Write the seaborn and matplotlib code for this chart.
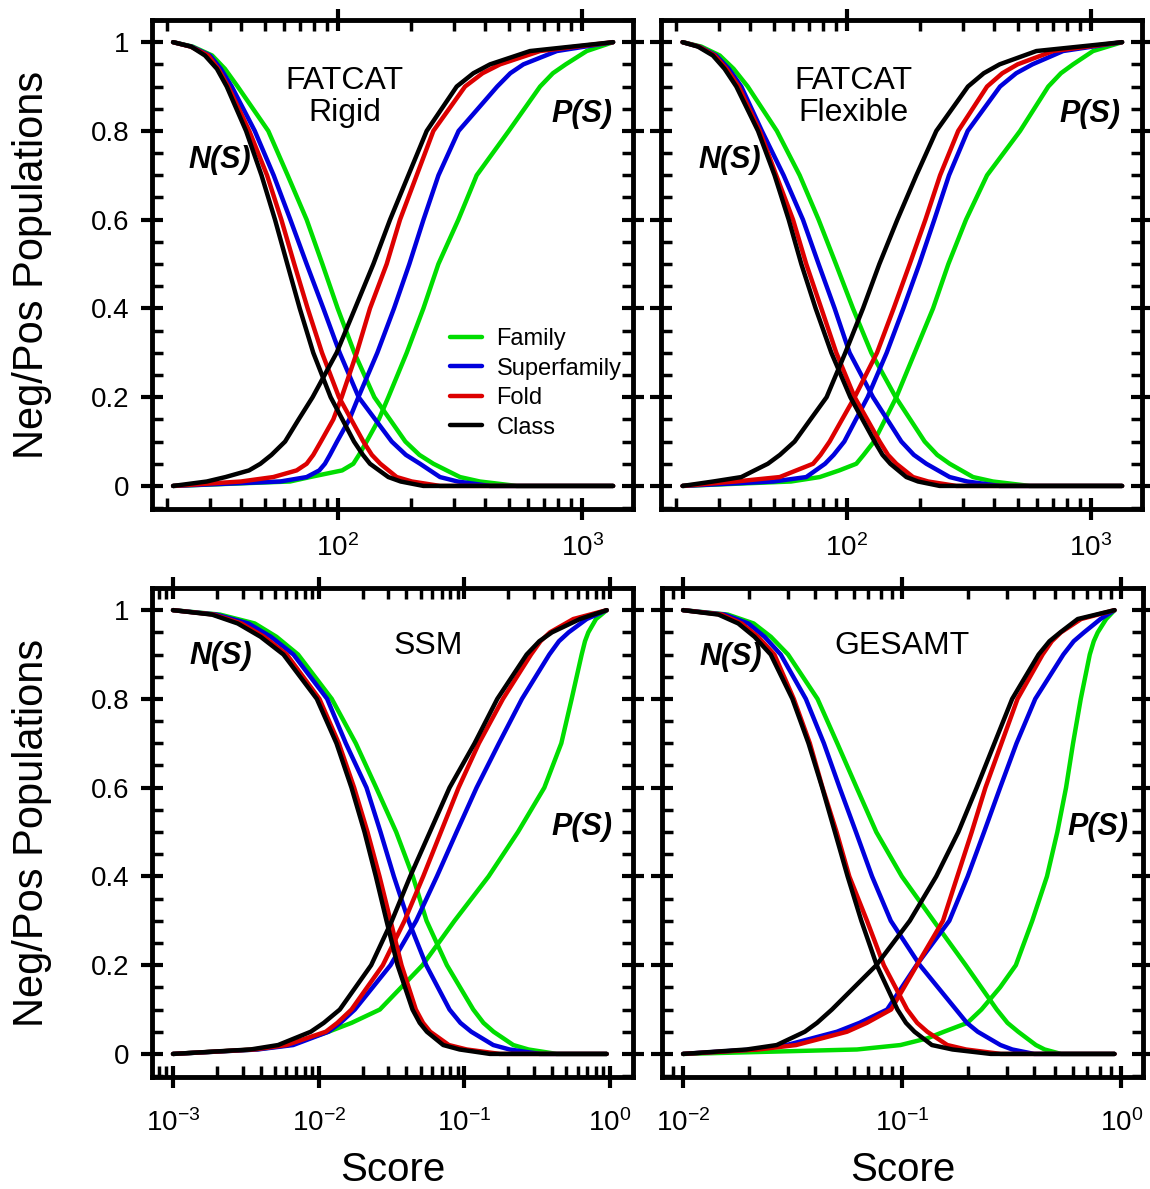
import numpy as np
import matplotlib
matplotlib.use("Agg")
import matplotlib.pyplot as plt
import matplotlib.ticker as mticker
from matplotlib.lines import Line2D
import seaborn as sns

# --- values ----------------------------------------------------------------
# population fractions at which each curve was read
levels_n = [1, 0.99, 0.97, 0.94, 0.9, 0.8, 0.7, 0.6, 0.5, 0.4, 0.3, 0.2, 0.15,
            0.1, 0.07, 0.05, 0.035, 0.02, 0.01, 0, 0]
levels_p = [0, 0.01, 0.02, 0.035, 0.05, 0.07, 0.1, 0.15, 0.2, 0.3, 0.4, 0.5, 0.6,
            0.7, 0.8, 0.9, 0.93, 0.95, 0.98, 0.99, 1]

groups = ['Family', 'Superfamily', 'Fold', 'Class']
group_colors = ['#00dd00', '#0000dd', '#dd0000', '#000000']

# FATCAT rigid: score at each level
rigid_n_family = [21.1, 25.4, 30.5, 34.4, 38.8, 51.8, 62.2, 74.4, 86.3, 99.7, 116.7, 140.9, 163.1,
                  188.8, 215.5, 245.9, 278.8, 316.2, 381.3, 539.8, 1340]
rigid_n_superfamily = [21.1, 25.1, 29.9, 33.1, 36.7, 45.6, 54.5, 63.8, 74.4, 87.1, 101.6, 121.5, 142.0,
                       166.0, 189.7, 216.8, 238.2, 261.8, 309.0, 419.7, 1340]
rigid_n_fold = [21.1, 24.9, 29.4, 32.3, 35.5, 43.3, 51.2, 58.6, 66.2, 75.1, 86.0, 100.9, 113.2,
                127.0, 137.6, 149.1, 161.1, 174.0, 200.8, 261.8, 1340]
rigid_n_class = [21.1, 25.0, 28.5, 31.9, 35.0, 42.0, 48.6, 55.2, 62.0, 69.7, 79.2, 93.3, 104.2,
                 116.3, 126.5, 135.2, 147.4, 160.8, 180.6, 223.8, 1340]
rigid_p_family = [21.1, 63.6, 76.8, 104.0, 115.6, 121.9, 131.0, 147.0, 160.8, 191.2, 223.8, 257.8, 311.3,
                  370.0, 501.0, 673.0, 759.4, 857.0, 1045.0, 1183.0, 1340]
rigid_p_superfamily = [21.1, 58.0, 74.4, 83.8, 88.4, 92.7, 99.1, 111.3, 121.2, 144.9, 169.6, 196.0, 224.0,
                       258.0, 312.0, 449.0, 508.1, 575.0, 788.0, 1027.6, 1340]
rigid_p_fold = [21.1, 40.0, 54.3, 67.7, 74.4, 79.2, 85.1, 95.7, 103.5, 119.3, 135.2, 158.3, 179.5,
                210.1, 245.9, 331.5, 391.1, 461.3, 672.9, 949.6, 1340]
rigid_p_class = [21.1, 29.0, 34.6, 43.2, 48.1, 53.4, 60.7, 69.0, 78.7, 98.7, 117.4, 139.6, 163.4,
                 194.2, 230.9, 306.4, 358.6, 419.7, 612.0, 905.6, 1340]

# FATCAT flexible
flex_n_family = [21.2, 25.3, 30.1, 34.3, 39.2, 51.6, 64.0, 76.5, 90.1, 105.8, 125.8, 158.3, 181.5,
                 208.1, 234.2, 263.5, 294.2, 328.5, 396.1, 560.6, 1340]
flex_n_superfamily = [21.2, 24.8, 29.1, 32.8, 36.9, 44.8, 55.0, 66.0, 76.5, 89.0, 102.5, 127.8, 146.1,
                      167.0, 187.9, 211.4, 236.0, 263.5, 310.9, 422.3, 1340]
flex_n_fold = [21.2, 24.7, 28.7, 32.1, 36.0, 43.9, 51.3, 60.1, 68.1, 78.5, 90.4, 107.5, 121.0,
               136.1, 147.2, 159.3, 172.4, 186.5, 215.1, 280.6, 1340]
flex_n_class = [21.2, 24.5, 28.2, 31.5, 35.2, 43.2, 50.5, 57.7, 65.0, 74.4, 86.3, 103.2, 115.7,
                129.8, 139.8, 150.5, 162.3, 175.1, 195.5, 239.8, 1340]
flex_p_family = [21.2, 59.0, 77.3, 93.0, 109.2, 117.0, 129.0, 143.4, 159.3, 189.4, 225.2, 260.2, 307.4,
                 374.8, 512.0, 668.0, 752.4, 843.9, 1019.0, 1168.5, 1340]
flex_p_superfamily = [21.2, 50.0, 68.1, 74.4, 81.3, 88.2, 97.5, 108.8, 121.5, 145.4, 170.2, 197.9, 228.0,
                      261.8, 312.3, 423.7, 493.6, 575.0, 768.0, 1014.5, 1340]
flex_p_fold = [21.2, 35.0, 53.0, 62.0, 72.6, 77.9, 84.9, 95.5, 107.5, 132.7, 155.3, 180.7, 209.6,
               240.7, 285.5, 374.8, 432.9, 500.0, 699.0, 967.8, 1340]
flex_p_class = [21.2, 28.3, 36.9, 41.8, 47.4, 53.1, 61.0, 70.9, 82.5, 98.4, 116.3, 135.7, 160.8,
                192.4, 232.3, 313.0, 363.4, 422.0, 597.0, 894.4, 1340]

# SSM
ssm_n_family = [0.001, 0.0021, 0.00364, 0.00513, 0.00722, 0.0123, 0.01798, 0.02481, 0.03404, 0.04429,
                0.05499, 0.07586, 0.09344, 0.1151, 0.1352, 0.1587, 0.1855, 0.2167, 0.2755, 0.43, 0.948]
ssm_n_superfamily = [0.001, 0.00198, 0.00329, 0.0047, 0.00671, 0.01143, 0.01535, 0.02129, 0.02657, 0.03281,
                     0.04137, 0.0547, 0.06578, 0.0791, 0.09391, 0.1115, 0.1327, 0.1579, 0.2045, 0.3303, 0.948]
ssm_n_fold = [0.001, 0.0019, 0.00295, 0.00422, 0.00604, 0.01012, 0.01374, 0.01751, 0.02163, 0.02615,
              0.03112, 0.03703, 0.04147, 0.04645, 0.05203, 0.05829, 0.06755, 0.07828, 0.1038, 0.1754, 0.948]
ssm_n_class = [0.001, 0.00185, 0.00278, 0.00399, 0.00573, 0.00971, 0.01324, 0.01679, 0.02063, 0.02468,
               0.02921, 0.03477, 0.03914, 0.04406, 0.04935, 0.05528, 0.06291, 0.0716, 0.09271, 0.1498, 0.948]
ssm_p_family = [0.001, 0.0037, 0.00623, 0.00853, 0.01167, 0.01682, 0.02629, 0.03684, 0.05162, 0.0856,
                0.1466, 0.2332, 0.3538, 0.4628, 0.545, 0.6384, 0.673, 0.7094, 0.8012, 0.8715, 0.948]
ssm_p_superfamily = [0.001, 0.0038, 0.00668, 0.00883, 0.01167, 0.01408, 0.0177, 0.02347, 0.03112, 0.04669,
                     0.06477, 0.08839, 0.1213, 0.1727, 0.2484, 0.3828, 0.446, 0.5197, 0.6911, 0.8094, 0.948]
ssm_p_fold = [0.001, 0.0036, 0.00601, 0.0082, 0.01119, 0.01343, 0.01679, 0.02151, 0.02756, 0.03883,
              0.05217, 0.069, 0.09123, 0.1258, 0.1839, 0.2866, 0.333, 0.387, 0.5597, 0.7284, 0.948]
ssm_p_class = [0.001, 0.0034, 0.00526, 0.00681, 0.00882, 0.01084, 0.01396, 0.01789, 0.02292, 0.03179,
               0.04246, 0.05797, 0.0791, 0.1175, 0.1682, 0.2676, 0.3269, 0.3994, 0.6217, 0.7677, 0.948]

# GESAMT
ges_n_family = [0.01, 0.016, 0.021, 0.02516, 0.03015, 0.04109, 0.05056, 0.062, 0.0762, 0.0997,
                0.1392, 0.1951, 0.2297, 0.2704, 0.3026, 0.3387, 0.3717, 0.408, 0.4474, 0.5311, 0.932]
ges_n_superfamily = [0.01, 0.0155, 0.01985, 0.02354, 0.02791, 0.03634, 0.04393, 0.05183, 0.06155, 0.07288,
                     0.08874, 0.1205, 0.1457, 0.1762, 0.1975, 0.2213, 0.2494, 0.2811, 0.3183, 0.4009, 0.932]
ges_n_fold = [0.01, 0.015, 0.0185, 0.02198, 0.02611, 0.03201, 0.0379, 0.04331, 0.05021, 0.05739,
              0.06913, 0.08247, 0.09323, 0.1054, 0.1171, 0.1302, 0.1447, 0.1608, 0.1957, 0.2821, 0.932]
ges_n_class = [0.01, 0.0145, 0.01786, 0.02118, 0.02512, 0.03155, 0.03737, 0.04316, 0.04934, 0.05638,
               0.06512, 0.07655, 0.08536, 0.09519, 0.1041, 0.1139, 0.1248, 0.1367, 0.1698, 0.2539, 0.932]
ges_p_family = [0.01, 0.0622, 0.09826, 0.13, 0.1552, 0.1985, 0.2301, 0.28, 0.3305, 0.3926,
                0.4583, 0.511, 0.5601, 0.6029, 0.6537, 0.7187, 0.7496, 0.7818, 0.8539, 0.8921, 0.932]
ges_p_superfamily = [0.01, 0.021, 0.02973, 0.0387, 0.05039, 0.06389, 0.08538, 0.09965, 0.1163, 0.1642,
                     0.1992, 0.2366, 0.2801, 0.3328, 0.4052, 0.5445, 0.6071, 0.6769, 0.8043, 0.8658, 0.932]
ges_p_fold = [0.01, 0.022, 0.03281, 0.04287, 0.056, 0.06901, 0.08904, 0.102, 0.1168, 0.1536,
              0.1786, 0.2078, 0.24, 0.2841, 0.3363, 0.4377, 0.4821, 0.5311, 0.6559, 0.7819, 0.932]
ges_p_class = [0.01, 0.0195, 0.02676, 0.03102, 0.03596, 0.04088, 0.04779, 0.06037, 0.07627, 0.1084,
               0.1431, 0.1805, 0.219, 0.2638, 0.3179, 0.4197, 0.4705, 0.5274, 0.6332, 0.7682, 0.932]

y_ticks = [0, 0.2, 0.4, 0.6, 0.8, 1]
y_tick_labels = ['0', '0.2', '0.4', '0.6', '0.8', '1']

# --- style -----------------------------------------------------------------
sns.set_style("ticks")
plt.rcParams['font.family'] = ['Liberation Sans', 'DejaVu Sans']
plt.rcParams['mathtext.fontset'] = 'custom'
plt.rcParams['mathtext.rm'] = 'Liberation Sans'
plt.rcParams['mathtext.it'] = 'Liberation Sans:italic'
plt.rcParams['mathtext.bf'] = 'Liberation Sans:bold'
plt.rcParams['mathtext.default'] = 'regular'
plt.rcParams['axes.unicode_minus'] = False
for key in ['text.color', 'axes.labelcolor', 'xtick.color', 'ytick.color', 'axes.edgecolor']:
    plt.rcParams[key] = 'black'

fig = plt.figure(figsize=(11.5, 11.89), dpi=100)

panels = [
    dict(rect=[0.1322, 0.5719, 0.4183, 0.4113], xlim=(17.3, 1618),
         n=[rigid_n_family, rigid_n_superfamily, rigid_n_fold, rigid_n_class],
         p=[rigid_p_family, rigid_p_superfamily, rigid_p_fold, rigid_p_class],
         title='FATCAT\nRigid', title_xy=(0.401, 0.843),
         ns_xy=(0.141, 0.714), ps_xy=(0.894, 0.808), left=True, bottom=False, legend=True),
    dict(rect=[0.5748, 0.5719, 0.4183, 0.4113], xlim=(17.3, 1618),
         n=[flex_n_family, flex_n_superfamily, flex_n_fold, flex_n_class],
         p=[flex_p_family, flex_p_superfamily, flex_p_fold, flex_p_class],
         title='FATCAT\nFlexible', title_xy=(0.399, 0.843),
         ns_xy=(0.143, 0.714), ps_xy=(0.892, 0.808), left=False, bottom=False, legend=False),
    dict(rect=[0.1322, 0.0942, 0.4183, 0.4113], xlim=(10 ** -3.144, 10 ** 0.158),
         n=[ssm_n_family, ssm_n_superfamily, ssm_n_fold, ssm_n_class],
         p=[ssm_p_family, ssm_p_superfamily, ssm_p_fold, ssm_p_class],
         title='SSM', title_xy=(0.574, 0.882),
         ns_xy=(0.143, 0.861), ps_xy=(0.894, 0.511), left=True, bottom=True, legend=False),
    dict(rect=[0.5757, 0.0942, 0.4183, 0.4113], xlim=(10 ** -2.096, 10 ** 0.1),
         n=[ges_n_family, ges_n_superfamily, ges_n_fold, ges_n_class],
         p=[ges_p_family, ges_p_superfamily, ges_p_fold, ges_p_class],
         title='GESAMT', title_xy=(0.499, 0.882),
         ns_xy=(0.143, 0.859), ps_xy=(0.906, 0.511), left=False, bottom=True, legend=False),
]

for cfg in panels:
    ax = fig.add_axes(cfg['rect'])
    for name, color, n_scores, p_scores in zip(groups, group_colors, cfg['n'], cfg['p']):
        sns.lineplot(x=n_scores, y=levels_n, ax=ax, color=color, lw=3.2,
                     estimator=None, sort=False, legend=False, solid_joinstyle='round')
        sns.lineplot(x=p_scores, y=levels_p, ax=ax, color=color, lw=3.2,
                     estimator=None, sort=False, legend=False, solid_joinstyle='round')

    ax.set_xscale('log')
    ax.set_xlim(*cfg['xlim'])
    ax.set_ylim(-0.052, 1.05)
    ax.xaxis.set_major_locator(mticker.LogLocator(base=10, numticks=10))
    ax.xaxis.set_minor_locator(mticker.LogLocator(base=10, subs=np.arange(2, 10), numticks=30))
    ax.xaxis.set_minor_formatter(mticker.NullFormatter())
    ax.yaxis.set_major_locator(mticker.FixedLocator(y_ticks))
    ax.yaxis.set_minor_locator(mticker.MultipleLocator(0.05))
    ax.set_yticklabels(y_tick_labels)

    ax.tick_params(which='major', direction='inout', length=16, width=3,
                   top=True, right=True, labelsize=20)
    ax.tick_params(which='minor', direction='in', length=8, width=2.5,
                   top=True, right=True)
    ax.tick_params(axis='y', which='major', pad=8)
    ax.tick_params(axis='x', which='major', pad=15 if cfg['bottom'] else 10)
    if not cfg['left']:
        ax.tick_params(axis='y', labelleft=False)
    for sp in ax.spines.values():
        sp.set_linewidth(3.5)

    ax.set_xlabel('')
    ax.set_ylabel('')
    if cfg['left']:
        ax.set_ylabel('Neg/Pos Populations', fontsize=30)
        ax.yaxis.set_label_coords(-0.207, 0.5)
    if cfg['bottom']:
        ax.set_xlabel('Score', fontsize=29)
        ax.xaxis.set_label_coords(0.5, -0.152)

    ax.text(*cfg['title_xy'], cfg['title'], transform=ax.transAxes, ha='center', va='center',
            fontsize=23, linespacing=1.1)
    ax.text(*cfg['ns_xy'], 'N(S)', transform=ax.transAxes, ha='center', va='center',
            fontsize=22, fontweight='bold', fontstyle='italic')
    ax.text(*cfg['ps_xy'], 'P(S)', transform=ax.transAxes, ha='center', va='center',
            fontsize=22, fontweight='bold', fontstyle='italic')

    if cfg['legend']:
        handles = [Line2D([], [], color=c, lw=3.2) for c in group_colors]
        ax.legend(handles, groups, loc='upper left', bbox_to_anchor=(0.62, 0.37),
                  frameon=False, fontsize=17, handlelength=1.36, handletextpad=0.6,
                  labelspacing=0.32, borderpad=0, borderaxespad=0)

fig.savefig('out.png', dpi=100)
